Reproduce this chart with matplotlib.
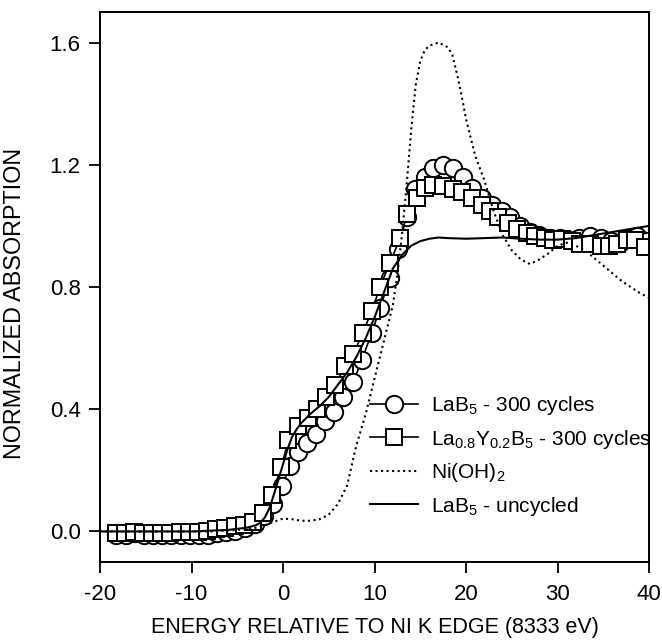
import matplotlib
matplotlib.use("Agg")
import matplotlib.pyplot as plt

plt.rcParams['font.family'] = ['Liberation Sans', 'DejaVu Sans']
plt.rcParams['mathtext.fontset'] = 'custom'
plt.rcParams['mathtext.rm'] = 'Liberation Sans'
plt.rcParams['mathtext.it'] = 'Liberation Sans:italic'
plt.rcParams['axes.unicode_minus'] = False

# LaB5 after 300 cycles (circles)
lab5_300_x = [-18.2, -17.2, -16.2, -15.2, -14.2, -13.2, -12.2, -11.2, -10.2, -9.2,
              -8.2, -7.2, -6.2, -5.2, -4.2, -3.1, -2.1, -1.1, -0.1, 0.8,
              1.6, 2.6, 3.6, 4.6, 5.6, 6.6, 7.7, 8.6, 9.7, 10.6,
              11.7, 12.6, 13.5, 14.4, 15.5, 16.4, 17.5, 18.6, 19.7, 20.7,
              21.7, 22.8, 23.9, 24.8, 25.9, 27.0, 28.0, 29.2, 30.3, 31.3,
              32.4, 33.6, 34.7, 35.8, 36.8, 37.6, 38.7, 39.8]
lab5_300_y = [-0.012, -0.01, -0.004, -0.01, -0.01, -0.012, -0.012, -0.01, -0.012, -0.012,
              -0.01, -0.005, -0.002, 0.003, 0.01, 0.026, 0.05, 0.09, 0.15, 0.215,
              0.26, 0.29, 0.32, 0.36, 0.39, 0.44, 0.49, 0.56, 0.65, 0.73,
              0.83, 0.925, 1.03, 1.12, 1.16, 1.19, 1.20, 1.19, 1.16, 1.125,
              1.09, 1.07, 1.05, 1.03, 1.0, 0.98, 0.97, 0.96, 0.96, 0.955,
              0.96, 0.967, 0.96, 0.95, 0.945, 0.96, 0.967, 0.95]

# La0.8Y0.2B5 after 300 cycles (squares)
lay_300_x = [-18.3, -17.3, -16.3, -15.3, -14.3, -13.3, -12.3, -11.3, -10.3, -9.3,
             -8.3, -7.3, -6.3, -5.3, -4.3, -3.3, -2.2, -1.2, -0.2, 0.6,
             1.6, 2.7, 3.7, 4.7, 5.7, 6.8, 7.7, 8.7, 9.7, 10.6,
             11.7, 12.8, 13.6, 14.6, 15.5, 16.4, 17.5, 18.6, 19.6, 20.7,
             21.7, 22.6, 23.5, 24.6, 25.6, 26.7, 27.5, 28.6, 29.5, 30.5,
             31.6, 32.5, 33.6, 34.7, 35.6, 36.5, 37.6, 38.5, 39.6]
lay_300_y = [-0.005, -0.004, -0.003, -0.005, -0.004, -0.005, -0.004, -0.003, -0.002, -0.003,
             0.0, 0.008, 0.012, 0.018, 0.022, 0.032, 0.06, 0.12, 0.21, 0.30,
             0.345, 0.37, 0.40, 0.44, 0.48, 0.54, 0.58, 0.65, 0.72, 0.80,
             0.88, 0.96, 1.04, 1.09, 1.125, 1.135, 1.13, 1.12, 1.11, 1.09,
             1.07, 1.05, 1.03, 1.01, 0.99, 0.977, 0.967, 0.96, 0.955, 0.957,
             0.95, 0.94, 0.94, 0.935, 0.935, 0.94, 0.955, 0.955, 0.93]

# Ni(OH)2 reference (dotted)
nioh2_x = [-20, -8, -5, -3, -2, -1, 0, 1, 2, 3, 4, 5, 6, 7, 8, 9, 10, 11, 12, 12.5,
           13, 13.5, 14, 14.5, 15, 15.5, 16, 17, 18, 18.5, 19, 19.5, 20, 21, 22, 23,
           24, 25, 26, 27, 28, 29, 30, 31, 32, 33, 34, 35, 36, 37, 38, 39, 40]
nioh2_y = [0.0, 0.0, 0.005, 0.012, 0.02, 0.032, 0.042, 0.04, 0.035, 0.035, 0.04, 0.055,
           0.09, 0.15, 0.28, 0.38, 0.50, 0.62, 0.74, 0.84, 0.97, 1.13, 1.31, 1.46, 1.54,
           1.575, 1.59, 1.60, 1.585, 1.56, 1.50, 1.43, 1.35, 1.23, 1.15, 1.05, 0.97,
           0.92, 0.89, 0.875, 0.89, 0.91, 0.935, 0.945, 0.935, 0.92, 0.895, 0.87,
           0.845, 0.82, 0.80, 0.78, 0.765]

# LaB5 uncycled (solid)
lab5_unc_x = [-20, -10, -6, -4, -3, -2.5, -2, -1.5, -1, -0.5, 0, 0.5, 1, 1.5, 2, 3, 4,
              5, 6, 7, 8, 9, 10, 11, 12, 13, 14, 15, 16, 17, 18, 20, 22, 24, 26, 28,
              30, 32, 34, 36, 38, 40]
lab5_unc_y = [0.0, 0.0, 0.005, 0.012, 0.02, 0.028, 0.045, 0.075, 0.12, 0.17, 0.22,
              0.27, 0.31, 0.335, 0.355, 0.385, 0.41, 0.44, 0.48, 0.52, 0.57, 0.63,
              0.70, 0.78, 0.86, 0.905, 0.935, 0.95, 0.958, 0.962, 0.96, 0.958, 0.96,
              0.962, 0.958, 0.955, 0.955, 0.96, 0.97, 0.98, 0.99, 1.0]

fig = plt.figure(figsize=(6.62, 6.42), dpi=100)
ax = fig.add_axes([100 / 662, 80 / 642, 549 / 662, 550 / 642])

ax.plot(lab5_300_x, lab5_300_y, '-', color='black', lw=1.2, marker='o', ms=12.5,
        mfc='white', mec='black', mew=1.4, label=r'LaB$_5$ - 300 cycles')
ax.plot(lay_300_x, lay_300_y, '-', color='black', lw=1.2, marker='s', ms=11,
        mfc='white', mec='black', mew=1.4,
        label=r'La$_{0.8}$Y$_{0.2}$B$_5$ - 300 cycles')
ax.plot(nioh2_x, nioh2_y, ':', color='black', lw=1.5, label=r'Ni(OH)$_2$')
ax.plot(lab5_unc_x, lab5_unc_y, '-', color='black', lw=1.5, label=r'LaB$_5$ - uncycled')

ax.set_xlim(-20, 40)
ax.set_ylim(-0.1, 1.7)
ax.set_xticks([-20, -10, 0, 10, 20, 30, 40])
ax.set_yticks([0.0, 0.4, 0.8, 1.2, 1.6])
ax.set_yticklabels(['0.0', '0.4', '0.8', '1.2', '1.6'])
ax.tick_params(direction='out', length=8, width=1.3, labelsize=16)
ax.tick_params(axis='x', pad=8)
ax.tick_params(axis='y', pad=6)
for s in ax.spines.values():
    s.set_linewidth(1.4)

ax.set_xlabel('ENERGY RELATIVE TO NI K EDGE (8333 eV)', fontsize=15.5)
ax.xaxis.set_label_coords(0.5, -0.1)
ax.set_ylabel('NORMALIZED ABSORPTION', fontsize=16.8)
ax.yaxis.set_label_coords(-0.135, 0.47)

ax.legend(loc='upper left', bbox_to_anchor=(0.492, 0.305), frameon=False,
          fontsize=15, numpoints=1, handlelength=2.3, handletextpad=0.6,
          labelspacing=0.5, borderpad=0, borderaxespad=0)

fig.savefig('out.png', dpi=100)
